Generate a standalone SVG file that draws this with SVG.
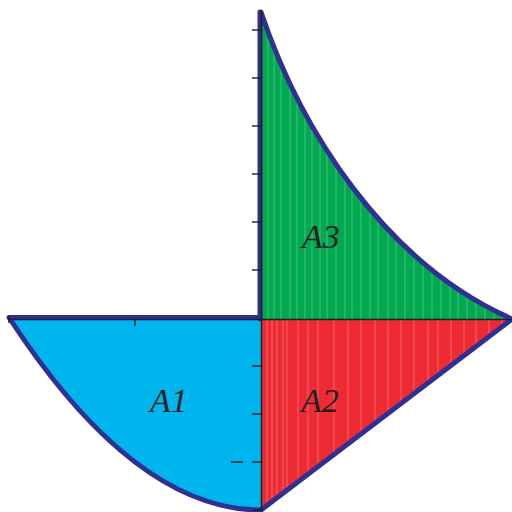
<svg xmlns="http://www.w3.org/2000/svg" width="512" height="512" viewBox="0 0 512 512">
  <style>
    .outline { fill: none; stroke: #2e3192; stroke-width: 5; stroke-linejoin: round; stroke-linecap: round; }
    .axis { fill: none; stroke: #231f20; stroke-width: 1.5; }
    .tick { stroke: #231f20; stroke-width: 1.4; }
    .stripe { stroke: #ffffff; stroke-opacity: 0.28; stroke-width: 1; }
    .label { font-family: "Liberation Serif", "Times New Roman", serif; font-style: italic; font-size: 34px; fill: #231f20; }
  </style>
  <defs>
    <clipPath id="clipA2"><path d="M261,319 L512,319 L261,510 Z"/></clipPath>
    <clipPath id="clipA3"><path d="M261,12 C300,128 383,262 512,319 L261,319 Z"/></clipPath>
  </defs>

  <rect width="512" height="512" fill="#ffffff"/>

  <g id="A1">
    <path d="M8,319 Q134.5,510 261,510 L261,319 Z" fill="#00b5ee"/>
    <path class="outline" d="M261,317.5 L9,317.5 Q134.5,510 261,510"/>
    <text class="label" x="150" y="412">A1</text>
  </g>

  <g id="A2">
    <path d="M261,319 L512,319 L261,510 Z" fill="#ee2b33"/>
    <g clip-path="url(#clipA2)">
      <line class="stripe" x1="267" y1="319" x2="267" y2="512"/>
      <line class="stripe" x1="272" y1="319" x2="272" y2="512"/>
      <line class="stripe" x1="277" y1="319" x2="277" y2="512"/>
      <line class="stripe" x1="283" y1="319" x2="283" y2="512"/>
      <line class="stripe" x1="287" y1="319" x2="287" y2="512"/>
      <line class="stripe" x1="298" y1="319" x2="298" y2="512"/>
      <line class="stripe" x1="308" y1="319" x2="308" y2="512"/>
      <line class="stripe" x1="318" y1="319" x2="318" y2="512"/>
      <line class="stripe" x1="334" y1="319" x2="334" y2="512"/>
      <line class="stripe" x1="348" y1="319" x2="348" y2="512"/>
      <line class="stripe" x1="361" y1="319" x2="361" y2="512"/>
      <line class="stripe" x1="375" y1="319" x2="375" y2="512"/>
      <line class="stripe" x1="388" y1="319" x2="388" y2="512"/>
      <line class="stripe" x1="401" y1="319" x2="401" y2="512"/>
      <line class="stripe" x1="414" y1="319" x2="414" y2="512"/>
      <line class="stripe" x1="428" y1="319" x2="428" y2="512"/>
      <line class="stripe" x1="438" y1="319" x2="438" y2="512"/>
      <line class="stripe" x1="451" y1="319" x2="451" y2="512"/>
      <line class="stripe" x1="464" y1="319" x2="464" y2="512"/>
      <line class="stripe" x1="476" y1="319" x2="476" y2="512"/>
      <line class="stripe" x1="489" y1="319" x2="489" y2="512"/>
      <line class="stripe" x1="502" y1="319" x2="502" y2="512"/>
    </g>
    <path class="outline" d="M261,510 L512,319"/>
    <text class="label" x="301" y="412">A2</text>
  </g>

  <g id="A3">
    <path d="M261,12 C300,128 383,262 512,319 L261,319 Z" fill="#00a84f"/>
    <g clip-path="url(#clipA3)">
      <line class="stripe" x1="268" y1="0" x2="268" y2="319"/>
      <line class="stripe" x1="274" y1="0" x2="274" y2="319"/>
      <line class="stripe" x1="281" y1="0" x2="281" y2="319"/>
      <line class="stripe" x1="290" y1="0" x2="290" y2="319"/>
      <line class="stripe" x1="297" y1="0" x2="297" y2="319"/>
      <line class="stripe" x1="305" y1="0" x2="305" y2="319"/>
      <line class="stripe" x1="312" y1="0" x2="312" y2="319"/>
      <line class="stripe" x1="320" y1="0" x2="320" y2="319"/>
      <line class="stripe" x1="327" y1="0" x2="327" y2="319"/>
      <line class="stripe" x1="336" y1="0" x2="336" y2="319"/>
      <line class="stripe" x1="345" y1="0" x2="345" y2="319"/>
      <line class="stripe" x1="352" y1="0" x2="352" y2="319"/>
      <line class="stripe" x1="361" y1="0" x2="361" y2="319"/>
      <line class="stripe" x1="370" y1="0" x2="370" y2="319"/>
      <line class="stripe" x1="378" y1="0" x2="378" y2="319"/>
      <line class="stripe" x1="388" y1="0" x2="388" y2="319"/>
      <line class="stripe" x1="396" y1="0" x2="396" y2="319"/>
      <line class="stripe" x1="405" y1="0" x2="405" y2="319"/>
      <line class="stripe" x1="414" y1="0" x2="414" y2="319"/>
      <line class="stripe" x1="423" y1="0" x2="423" y2="319"/>
      <line class="stripe" x1="432" y1="0" x2="432" y2="319"/>
      <line class="stripe" x1="441" y1="0" x2="441" y2="319"/>
      <line class="stripe" x1="450" y1="0" x2="450" y2="319"/>
      <line class="stripe" x1="458" y1="0" x2="458" y2="319"/>
      <line class="stripe" x1="467" y1="0" x2="467" y2="319"/>
      <line class="stripe" x1="476" y1="0" x2="476" y2="319"/>
      <line class="stripe" x1="485" y1="0" x2="485" y2="319"/>
      <line class="stripe" x1="494" y1="0" x2="494" y2="319"/>
      <line class="stripe" x1="502" y1="0" x2="502" y2="319"/>
    </g>
    <path class="outline" d="M260,319 L260,12 L261,12 C300,128 383,262 512,319"/>
    <text class="label" x="302" y="248">A3</text>
  </g>

  <g id="axes">
    <line class="axis" x1="8" y1="319.5" x2="512" y2="319.5"/>
    <line class="axis" x1="261.5" y1="10" x2="261.5" y2="511"/>
    <line class="tick" x1="9" y1="316" x2="9" y2="323"/>
    <line class="tick" x1="135" y1="319" x2="135" y2="326"/>
    <line class="tick" x1="252" y1="30" x2="261" y2="30"/>
    <line class="tick" x1="252" y1="78" x2="261" y2="78"/>
    <line class="tick" x1="252" y1="126" x2="261" y2="126"/>
    <line class="tick" x1="252" y1="174" x2="261" y2="174"/>
    <line class="tick" x1="252" y1="222" x2="261" y2="222"/>
    <line class="tick" x1="252" y1="270" x2="261" y2="270"/>
    <line class="tick" x1="252" y1="366" x2="261" y2="366"/>
    <line class="tick" x1="252" y1="414" x2="261" y2="414"/>
    <line class="tick" x1="252" y1="462" x2="261" y2="462"/>
    <line class="tick" x1="253" y1="510" x2="261" y2="510"/>
    <line class="tick" x1="231" y1="462" x2="243" y2="462"/>
  </g>
</svg>
